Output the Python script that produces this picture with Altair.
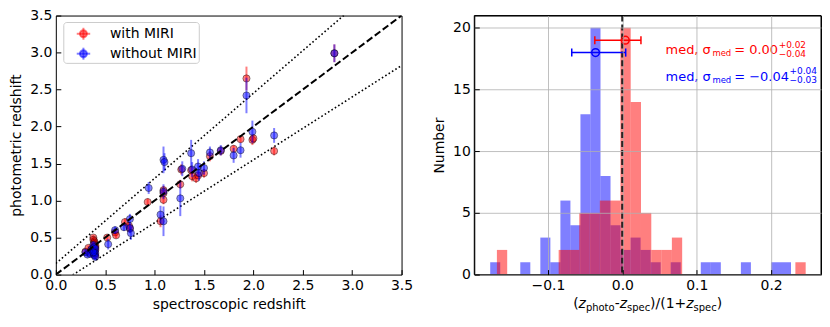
import altair as alt
import pandas as pd

FONT = "DejaVu Sans"

# ---------------- left panel data: (spectroscopic z, photometric z, error) ----------------
red_zspec = [0.30, 0.33, 0.35, 0.36, 0.38, 0.38, 0.38, 0.39, 0.39, 0.39, 0.39, 0.39, 0.40, 0.40, 0.40, 0.38, 0.39, 0.40, 0.39,
             0.52, 0.60, 0.61, 0.70, 0.74, 0.75, 0.93, 1.06, 1.09, 1.09, 1.09, 1.26, 1.27, 1.37, 1.38, 1.42, 1.44,
             1.50, 1.56, 1.67, 1.80, 1.87, 1.93, 1.99, 2.00, 2.21, 2.82]
red_zphot = [0.31, 0.36, 0.30, 0.33, 0.50, 0.47, 0.36, 0.45, 0.43, 0.41, 0.35, 0.31, 0.39, 0.37, 0.33, 0.29, 0.28, 0.26, 0.34,
             0.50, 0.57, 0.53, 0.71, 0.66, 0.62, 0.98, 0.72, 1.01, 1.10, 1.14, 1.22, 1.42, 1.41, 1.33, 1.30, 1.34,
             1.37, 1.60, 1.67, 1.70, 1.83, 2.65, 1.82, 1.84, 1.67, 2.99]
red_err = [0.03, 0.03, 0.03, 0.03, 0.03, 0.03, 0.03, 0.03, 0.03, 0.03, 0.03, 0.03, 0.03, 0.03, 0.03, 0.03, 0.03, 0.03, 0.03,
           0.04, 0.04, 0.04, 0.05, 0.05, 0.05, 0.05, 0.08, 0.06, 0.06, 0.06, 0.06, 0.07, 0.06, 0.07, 0.06, 0.05,
           0.06, 0.07, 0.06, 0.05, 0.05, 0.16, 0.07, 0.06, 0.06, 0.12]

blue_zspec = [0.30, 0.32, 0.35, 0.36, 0.38, 0.38, 0.39, 0.39, 0.39, 0.40, 0.40, 0.40, 0.38,
              0.53, 0.60, 0.69, 0.75, 0.75, 0.76, 0.94, 1.06, 1.09, 1.09, 1.09, 1.10, 1.26, 1.28, 1.37,
              1.38, 1.44, 1.45, 1.50, 1.56, 1.67, 1.80, 1.87, 1.93, 1.99, 2.21, 2.82]
blue_zphot = [0.30, 0.27, 0.28, 0.34, 0.40, 0.33, 0.37, 0.31, 0.26, 0.35, 0.29, 0.24, 0.30,
              0.41, 0.60, 0.64, 0.75, 0.63, 0.56, 1.17, 0.81, 0.72, 1.12, 1.55, 1.52, 1.03, 1.43, 1.64,
              1.42, 1.46, 1.37, 1.44, 1.65, 1.68, 1.61, 1.68, 2.42, 1.93, 1.88, 2.99]
blue_err = [0.04, 0.04, 0.04, 0.04, 0.05, 0.05, 0.05, 0.05, 0.05, 0.05, 0.05, 0.05, 0.05,
            0.07, 0.05, 0.05, 0.07, 0.07, 0.09, 0.08, 0.12, 0.20, 0.10, 0.18, 0.12, 0.24, 0.10, 0.18,
            0.10, 0.10, 0.10, 0.09, 0.08, 0.07, 0.10, 0.10, 0.24, 0.15, 0.10, 0.12]

legend_labels = ["with MIRI", "without MIRI"]

# ---------------- right panel data: histograms ----------------
red_range = [-0.1686, 0.2464]
red_counts = [2, 0, 0, 0, 0, 0, 2, 2, 5, 5, 6, 6, 20, 14, 5, 2, 2, 3, 0, 0, 0, 0, 0, 0, 0, 0, 0, 0, 0, 1]
blue_range = [-0.1776, 0.2267]
blue_counts = [1, 0, 0, 1, 0, 3, 1, 6, 4, 13, 20, 8, 4, 2, 3, 2, 1, 0, 1, 0, 0, 1, 1, 0, 0, 1, 0, 0, 1, 1]

# medians with errors (value, low, high, y-position)
red_med = [0.004, -0.037, 0.025, 19]
blue_med = [-0.036, -0.068, 0.0045, 18]

RED = "#ff0000"
BLUE = "#0000ff"

W_L, W_R, H = 347, 348, 260


def axis(values, fmt, title, grid=False, title_pad=6):
    return alt.Axis(values=values, format=fmt, title=title, grid=grid, domain=False,
                    ticks=True, tickSize=5, offset=-5, tickColor="black", tickWidth=1,
                    labelPadding=4, labelFontSize=14, labelFont=FONT, labelColor="black",
                    labelFlush=False, labelOverlap=False,
                    titleFontSize=14, titleFont=FONT, titleFontWeight="normal", titleColor="black",
                    titlePadding=title_pad, gridColor="#b0b0b0", gridWidth=0.8, zindex=1)


one = pd.DataFrame({"a": [0]})


def txt(t, px, py, size=14, color="black", italic=False, align="left", baseline="alphabetic"):
    kw = dict(text=t, fontSize=size, font=FONT, color=color, align=align, baseline=baseline)
    if italic:
        kw["fontStyle"] = "italic"
    return alt.Chart(one).mark_text(**kw).encode(x=alt.value(px), y=alt.value(py))


# ================= LEFT PANEL =================
xs = alt.Scale(domain=[0, 3.5], nice=False, zero=False)
ys = alt.Scale(domain=[0, 3.5], nice=False, zero=False)
ticks_l = [0, 0.5, 1.0, 1.5, 2.0, 2.5, 3.0, 3.5]
AX_L = axis(ticks_l, ".1f", "spectroscopic redshift", title_pad=5)
AY_L = axis(ticks_l, ".1f", "photometric redshift", title_pad=6)
X = alt.X("zspec:Q", scale=xs, axis=AX_L)
Y = alt.Y("zphot:Q", scale=ys, axis=AY_L)


def series(zs, zp, err, col):
    df = pd.DataFrame({"zspec": zs, "zphot": zp, "err": err})
    df["lo"] = df["zphot"] - df["err"]
    df["hi"] = df["zphot"] + df["err"]
    bars = alt.Chart(df).mark_rule(color=col, opacity=0.5, strokeWidth=2).encode(
        x=X, y=alt.Y("lo:Q", scale=ys, axis=AY_L), y2="hi:Q")
    pts = alt.Chart(df).mark_circle(size=52, color=col, fillOpacity=0.5, stroke="black",
                                    strokeWidth=0.8, strokeOpacity=0.5).encode(x=X, y=Y)
    return bars, pts


rb, rp = series(red_zspec, red_zphot, red_err, RED)
bb, bp = series(blue_zspec, blue_zphot, blue_err, BLUE)

ref_x = [0.0, 3.5]
one_to_one = pd.DataFrame({"zspec": ref_x, "zphot": ref_x})
upper = pd.DataFrame({"zspec": ref_x, "zphot": [1.15 * v + 0.15 for v in ref_x]})
lower = pd.DataFrame({"zspec": ref_x, "zphot": [0.85 * v - 0.15 for v in ref_x]})

l_dash = alt.Chart(one_to_one).mark_line(color="black", strokeWidth=2, strokeDash=[7, 3], clip=True).encode(x=X, y=Y)
l_up = alt.Chart(upper).mark_line(color="black", strokeWidth=1.6, strokeDash=[1.6, 2.4], clip=True).encode(x=X, y=Y)
l_lo = alt.Chart(lower).mark_line(color="black", strokeWidth=1.6, strokeDash=[1.6, 2.4], clip=True).encode(x=X, y=Y)

# legend
leg_box = alt.Chart(one).mark_rect(fill="white", fillOpacity=0.8, stroke="#cccccc", strokeWidth=1,
                                   cornerRadius=3).encode(
    x=alt.value(8), x2=alt.value(144), y=alt.value(7), y2=alt.value(48))
leg_layers = [leg_box]
for i, (lab, col) in enumerate(zip(legend_labels, [RED, BLUE])):
    cy = 18.3 + 20 * i
    leg_layers.append(alt.Chart(one).mark_rule(color=col, opacity=0.5, strokeWidth=2).encode(
        x=alt.value(21), x2=alt.value(34.5), y=alt.value(cy)))
    leg_layers.append(alt.Chart(one).mark_rule(color=col, opacity=0.5, strokeWidth=2).encode(
        x=alt.value(27.7), y=alt.value(cy - 6), y2=alt.value(cy + 6)))
    leg_layers.append(alt.Chart(one).mark_circle(size=50, color=col, fillOpacity=0.5, stroke=col,
                                                 strokeOpacity=0.5).encode(
        x=alt.value(27.7), y=alt.value(cy)))
    leg_layers.append(txt(lab, 54.3, cy, size=14, baseline="middle"))

left = alt.layer(l_up, l_lo, rb, rp, bb, bp, l_dash, *leg_layers).properties(width=W_L, height=H)

# ================= RIGHT PANEL =================
hxs = alt.Scale(domain=[-0.199, 0.267], nice=False, zero=False)
hys = alt.Scale(domain=[0, 21], nice=False, zero=False)
AX_R = axis([-0.1, 0.0, 0.1, 0.2], ".1f", None, grid=True)
AY_R = axis([0, 5, 10, 15, 20], "d", "Number", grid=True, title_pad=6)
HX = alt.X("lo:Q", scale=hxs, axis=AX_R)
HY = alt.Y("count:Q", scale=hys, axis=AY_R)


def hist_df(rng, counts):
    n = len(counts)
    w = (rng[1] - rng[0]) / n
    return pd.DataFrame({"lo": [rng[0] + i * w for i in range(n)],
                         "hi": [rng[0] + (i + 1) * w for i in range(n)],
                         "count": counts})


h_blue = alt.Chart(hist_df(blue_range, blue_counts)).mark_rect(color=BLUE, opacity=0.5).encode(
    x=HX, x2="hi:Q", y=HY, y2=alt.datum(0))
h_red = alt.Chart(hist_df(red_range, red_counts)).mark_rect(color=RED, opacity=0.5).encode(
    x=HX, x2="hi:Q", y=HY, y2=alt.datum(0))

vline = alt.Chart(pd.DataFrame({"lo": [0.0]})).mark_rule(color="black", strokeWidth=2, strokeDash=[6, 3]).encode(x=HX)


def med_layers(m, col):
    df = pd.DataFrame({"lo": [m[1]], "hi": [m[2]], "count": [m[3]], "med": [m[0]]})
    caps = pd.DataFrame({"lo": [m[1], m[2]], "count": [m[3] - 0.33] * 2, "c2": [m[3] + 0.33] * 2})
    line = alt.Chart(df).mark_rule(color=col, strokeWidth=1.5).encode(x=HX, x2="hi:Q", y=HY)
    cap = alt.Chart(caps).mark_rule(color=col, strokeWidth=1.5).encode(x=HX, y=HY, y2="c2:Q")
    pt = alt.Chart(df).mark_point(shape="circle", size=60, color=col, filled=False, strokeWidth=1.5,
                                  opacity=1).encode(x=alt.X("med:Q", scale=hxs, axis=AX_R), y=HY)
    return [line, cap, pt]


frame = alt.Chart(one).mark_rect(fill=None, stroke="black", strokeWidth=1).encode(
    x=alt.value(0), x2=alt.value(W_R), y=alt.value(0), y2=alt.value(H))

# annotation texts
ann = []
for col, val, sup, sub, dy in [(RED, "= 0.00", "+0.02", "\u22120.04", 0),
                               (BLUE, "= \u22120.04", "+0.04", "\u22120.03", 26.6)]:
    b = 38.7 + dy
    ann.append(txt("med, \u03c3", 192, b, size=13, color=col))
    ann.append(txt("med", 239, b + 2, size=8.5, color=col))
    ann.append(txt(val, 261, b, size=13, color=col))
    vw = (0.838 + 0.318 + 2.226 + (0.838 if "\u2212" in val else 0)) * 13
    ann.append(txt(sup, 261 + vw + 0.5, b - 6.5, size=9, color=col))
    ann.append(txt(sub, 261 + vw + 0.5, b + 2.5, size=9, color=col))

# x-axis title with sub-scripts: (z_photo - z_spec)/(1+z_spec)
WID = {"(": 0.390, ")": 0.390, "z": 0.525, "p": 0.635, "h": 0.634, "o": 0.612, "t": 0.392, "s": 0.521,
       "e": 0.615, "c": 0.550, "-": 0.361, "/": 0.337, "1": 0.636, "+": 0.838}
pieces = [("(", 14, False, 0), ("z", 14, True, 0), ("photo", 10, False, 3), ("-", 14, False, 0),
          ("z", 14, True, 0), ("spec", 10, False, 3), (")/(1+", 14, False, 0), ("z", 14, True, 0),
          ("spec", 10, False, 3), (")", 14, False, 0)]
tot = sum(sum(WID[c] for c in t) * s for t, s, _, _ in pieces)
cx = W_R / 2 - tot / 2
title_layers = []
for t, s, it, dy in pieces:
    title_layers.append(txt(t, cx, H + 34 + dy, size=s, italic=it))
    cx += sum(WID[c] for c in t) * s

right = alt.layer(h_blue, h_red, vline, *med_layers(red_med, RED), *med_layers(blue_med, BLUE),
                  frame, *ann, *title_layers).properties(width=W_R, height=H)

chart = alt.hconcat(left, right, spacing=18).properties(
    padding={"left": 1, "top": -1, "right": 0, "bottom": 0}
).configure_view(stroke="black", strokeWidth=1)

chart.save("out.html", embed_options={"renderer": "svg", "actions": False})
